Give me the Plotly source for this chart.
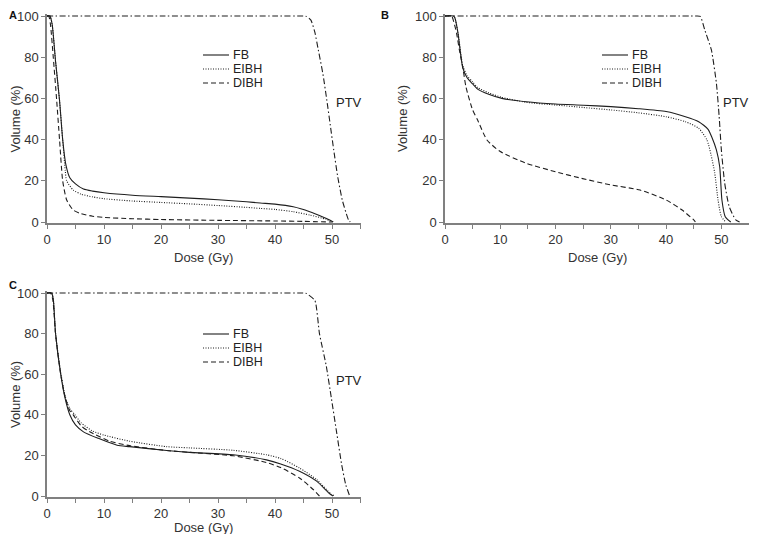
import plotly.graph_objects as go

# ---------------- data ----------------
dose_ticks = [0, 5, 10, 15, 20, 25, 30, 35, 40, 45, 50, 55]
dose_tick_labels = ['0', '', '10', '', '20', '', '30', '', '40', '', '50', '']
vol_ticks = [0, 20, 40, 60, 80, 100]
vol_tick_labels = ['0', '20', '40', '60', '80', '100']
panel_labels = ['A', 'B', 'C']
series_names = ['FB', 'EIBH', 'DIBH']
target_name = 'PTV'

# Panel A
a_fb_dose = [0, 0.5, 0.9, 1.5, 2.2, 2.75, 3.3, 4, 5, 6.4, 8, 10, 15, 20, 25, 30, 35, 37.4, 40, 43.2, 46.1, 48.5, 49.4, 50.2]
a_fb_vol = [100, 100, 96, 78, 59, 40, 28, 21.5, 18.5, 16, 15, 14.2, 13, 12.3, 11.6, 10.8, 9.8, 9.2, 8.7, 7.4, 5, 2.3, 1.2, 0]
a_eibh_dose = [0, 0.5, 0.9, 1.5, 2.2, 2.75, 3.2, 3.45, 4.6, 6, 8, 10, 15, 20, 25, 30, 35, 37.4, 40, 43.2, 46.1, 49, 50.2]
a_eibh_vol = [100, 100, 96, 78, 59, 40, 25, 20, 15.5, 13.5, 12.2, 11.3, 10.2, 9.5, 8.8, 8, 7.1, 6.6, 6.1, 5, 3.4, 1.3, 0]
a_dibh_dose = [0, 0.3, 0.6, 1.1, 1.7, 2.2, 2.75, 3.45, 4.6, 6, 8, 10, 15, 20, 30, 40, 45, 50]
a_dibh_vol = [100, 100, 96, 80, 59, 40, 20, 10.7, 5.8, 4, 2.8, 2.2, 1.6, 1.2, 0.8, 0.5, 0.3, 0]
a_ptv_dose = [0, 10, 20, 30, 40, 45, 45.5, 46.3, 47, 47.6, 48.4, 49.1, 49.7, 50.3, 51, 51.8, 52.4, 52.9, 53.2]
a_ptv_vol = [100, 100, 100, 100, 100, 100, 99.8, 98, 92, 83.5, 72, 59, 47, 35, 22, 10.7, 5, 1, 0]

# Panel B
b_fb_dose = [0, 1.5, 1.8, 2.35, 3.2, 4, 5, 5.9, 7.9, 10.3, 14.7, 20, 25, 30, 35, 40, 43.5, 45.9, 47.6, 48.3, 49.1, 49.7, 50.1, 50.7, 51.7]
b_fb_vol = [100, 100, 99, 91.6, 75, 70, 67, 64.5, 62, 60, 58.4, 57.3, 56.7, 56, 55, 53.6, 51.1, 48.7, 45, 41, 35, 26.8, 10.7, 2.6, 0]
b_eibh_dose = [0, 1.5, 1.8, 2.35, 3.2, 4, 5, 5.9, 7.9, 10.3, 14.7, 20, 25, 30, 35, 40, 43.5, 45.9, 47.4, 48.1, 48.8, 49.4, 50, 50.8]
b_eibh_vol = [100, 100, 99, 92, 76, 71, 68, 65.3, 62.7, 60.5, 58.1, 56.8, 55.6, 54.4, 53, 51.1, 48.7, 45.5, 39.8, 33, 23.8, 10.7, 2.6, 0]
b_dibh_dose = [0, 1.2, 1.5, 2.1, 2.6, 3.2, 3.8, 5, 5.9, 7.6, 10, 14.7, 20, 24.7, 30, 35.3, 40, 42.9, 45, 45.3]
b_dibh_vol = [100, 100, 98, 91.6, 83.5, 75.4, 65.5, 54.4, 49.5, 39.8, 34.2, 28.5, 24.4, 21.2, 18, 15.5, 10.7, 5.8, 1, 0]
b_ptv_dose = [0, 10, 20, 30, 40, 45.5, 46.2, 47, 48.2, 49.1, 49.6, 50, 50.6, 51.4, 52.6, 53.3]
b_ptv_vol = [100, 100, 100, 100, 100, 100, 99.8, 93.2, 83.5, 67.4, 51.3, 35, 18.9, 7.6, 1, 0]

# Panel C
c_fb_dose = [0, 0.8, 1.1, 1.5, 2.4, 3.2, 4, 5, 6.4, 9, 12.3, 14.5, 21, 25, 32.7, 38.5, 41, 44.3, 47.3, 49.6, 50.2]
c_fb_vol = [100, 100, 97, 80, 60, 47.8, 40, 35, 31.6, 28.4, 25, 24.3, 22.4, 21.5, 20.3, 17.8, 15.8, 12.2, 7.3, 1.1, 0]
c_eibh_dose = [0, 0.8, 1.1, 1.5, 2.4, 3.2, 4, 4.9, 6, 8, 10, 14.5, 21, 25, 32.7, 38.5, 41, 44.3, 47.3, 49.9, 50.5]
c_eibh_vol = [100, 100, 97, 80, 61, 49, 43, 40, 36, 32, 30, 27, 24.3, 23.7, 22.5, 20.3, 18.5, 13.8, 8.1, 0.8, 0]
c_dibh_dose = [0, 0.6, 1, 1.5, 2.4, 3.2, 4, 4.6, 6, 7.5, 11, 14.5, 21, 25, 32.7, 38.5, 41, 44.3, 46.7, 47.8]
c_dibh_vol = [100, 100, 97, 80, 60, 48.5, 42, 40, 34.5, 31.6, 27, 24.8, 22.4, 21.5, 19.8, 16.5, 14, 8.9, 3.2, 0]
c_ptv_dose = [0, 10, 20, 30, 40, 45, 45.5, 47, 47.8, 49, 49.9, 50.8, 51.7, 52.4, 53.1]
c_ptv_vol = [100, 100, 100, 100, 100, 100, 99.8, 96.3, 80, 64, 48, 31.6, 15.4, 5.7, 0]

# ---------------- styling ----------------
# The page body keeps an 8 px margin on every side; the figure is sized to fit
# inside the window without overflow and laid out in screen pixels.
OFF = 8
W, H = 757 - 2 * OFF, 542 - 2 * OFF
INK = '#1e1e1e'
AXIS = '#808080'
TXT = '#333333'
FONT = 'Liberation Sans, Arial, sans-serif'
dash_styles = {'FB': 'solid', 'EIBH': '1px,1.5px', 'DIBH': '5px,3px', 'PTV': '6px,2.5px,1.5px,2.5px'}
Y_LO, Y_HI = -0.5, 101.0


def px(sx):
    return (sx - OFF) / W


def py(sy):
    return 1 - (sy - OFF) / H


def ydom(top_px, bottom_px):
    per = (bottom_px - top_px) / 100.0
    top = top_px - (Y_HI - 100) * per
    bot = bottom_px + (0 - Y_LO) * per
    return [py(bot), py(top)]


panels = [
    dict(label='A', xa='x', ya='y',
         series=[(a_fb_dose, a_fb_vol), (a_eibh_dose, a_eibh_vol), (a_dibh_dose, a_dibh_vol)],
         ptv=(a_ptv_dose, a_ptv_vol),
         xdom=[px(47), px(360.5)], ydom=ydom(16, 222),
         leg_x=203, leg_y=[55, 69, 83], ptv_xy=(335, 103), lab_xy=(OFF, OFF),
         ytitle_xy=(15.5, 119), xtitle_xy=(203.5, 257)),
    dict(label='B', xa='x2', ya='y2',
         series=[(b_fb_dose, b_fb_vol), (b_eibh_dose, b_eibh_vol), (b_dibh_dose, b_dibh_vol)],
         ptv=(b_ptv_dose, b_ptv_vol),
         xdom=[px(445), 1.0], ydom=ydom(16, 222),
         leg_x=602, leg_y=[55, 69, 83], ptv_xy=(722, 103), lab_xy=(380, OFF),
         ytitle_xy=(403, 119), xtitle_xy=(597, 257)),
    dict(label='C', xa='x3', ya='y3',
         series=[(c_fb_dose, c_fb_vol), (c_eibh_dose, c_eibh_vol), (c_dibh_dose, c_dibh_vol)],
         ptv=(c_ptv_dose, c_ptv_vol),
         xdom=[px(47), px(360.5)], ydom=ydom(293, 496),
         leg_x=203, leg_y=[334, 348, 362], ptv_xy=(335, 380), lab_xy=(OFF, 278),
         ytitle_xy=(15.5, 394.5), xtitle_xy=(203.5, 527)),
]

fig = go.Figure()
shapes, annotations = [], []
layout_axes = {}

for i, p in enumerate(panels):
    for name, (xs, ys) in zip(series_names, p['series']):
        fig.add_trace(go.Scatter(x=xs, y=ys, mode='lines', name=name, showlegend=False,
                                 xaxis=p['xa'], yaxis=p['ya'],
                                 line=dict(color=INK, width=1.1, dash=dash_styles[name],
                                           shape='spline', smoothing=0.6)))
    fig.add_trace(go.Scatter(x=p['ptv'][0], y=p['ptv'][1], mode='lines', name=target_name,
                             showlegend=False, xaxis=p['xa'], yaxis=p['ya'],
                             line=dict(color=INK, width=1.1, dash=dash_styles['PTV'],
                                       shape='spline', smoothing=0.5)))
    sfx = '' if i == 0 else str(i + 1)
    layout_axes['xaxis' + sfx] = dict(
        domain=p['xdom'], range=[0, 55], anchor='y' + sfx, automargin=False,
        tickmode='array', tickvals=dose_ticks, ticktext=dose_tick_labels,
        ticks='outside', ticklen=4, tickwidth=1, tickcolor=AXIS,
        showline=True, linecolor=AXIS, linewidth=1.5, showgrid=False, zeroline=False,
        tickfont=dict(family=FONT, size=13, color=TXT))
    layout_axes['yaxis' + sfx] = dict(
        domain=p['ydom'], range=[Y_LO, Y_HI], anchor='x' + sfx, automargin=False,
        tickmode='array', tickvals=vol_ticks, ticktext=vol_tick_labels,
        ticks='outside', ticklen=4, tickwidth=1, tickcolor=AXIS,
        showline=True, linecolor=AXIS, linewidth=1.5, showgrid=False, zeroline=False,
        tickfont=dict(family=FONT, size=13, color=TXT))

    # axis titles
    annotations.append(dict(text='Dose (Gy)', xref='paper', yref='paper',
                            x=px(p['xtitle_xy'][0]), y=py(p['xtitle_xy'][1]),
                            xanchor='center', yanchor='middle', showarrow=False, borderpad=0,
                            font=dict(family=FONT, size=13, color=TXT)))
    annotations.append(dict(text='Volume (%)', xref='paper', yref='paper', textangle=-90,
                            x=px(p['ytitle_xy'][0]), y=py(p['ytitle_xy'][1]),
                            xanchor='center', yanchor='middle', showarrow=False, borderpad=0,
                            font=dict(family=FONT, size=13, color=TXT)))

    # legend keys
    for name, ly in zip(series_names, p['leg_y']):
        shapes.append(dict(type='line', xref='paper', yref='paper',
                           x0=px(p['leg_x']), x1=px(p['leg_x'] + 26),
                           y0=py(ly), y1=py(ly),
                           line=dict(color=INK, width=1.1, dash=dash_styles[name])))
        annotations.append(dict(text=name, xref='paper', yref='paper',
                                x=px(p['leg_x'] + 29), y=py(ly),
                                xanchor='left', yanchor='middle', showarrow=False, borderpad=0,
                                font=dict(family=FONT, size=12.5, color='#222222')))
    annotations.append(dict(text=target_name, xref='paper', yref='paper',
                            x=px(p['ptv_xy'][0]), y=py(p['ptv_xy'][1]),
                            xanchor='left', yanchor='middle', showarrow=False, borderpad=0,
                            font=dict(family=FONT, size=13, color='#222222')))
    annotations.append(dict(text='<b>' + p['label'] + '</b>', xref='paper', yref='paper',
                            x=px(p['lab_xy'][0]), y=py(p['lab_xy'][1]),
                            xanchor='left', yanchor='top', showarrow=False, borderpad=0,
                            font=dict(family=FONT, size=11, color='#111111')))

fig.update_layout(
    template='none',
    width=W, height=H,
    margin=dict(l=0, r=0, t=0, b=0, pad=0),
    paper_bgcolor='white', plot_bgcolor='white',
    showlegend=False,
    shapes=shapes, annotations=annotations,
    **layout_axes,
)

fig.write_html('out.html')
